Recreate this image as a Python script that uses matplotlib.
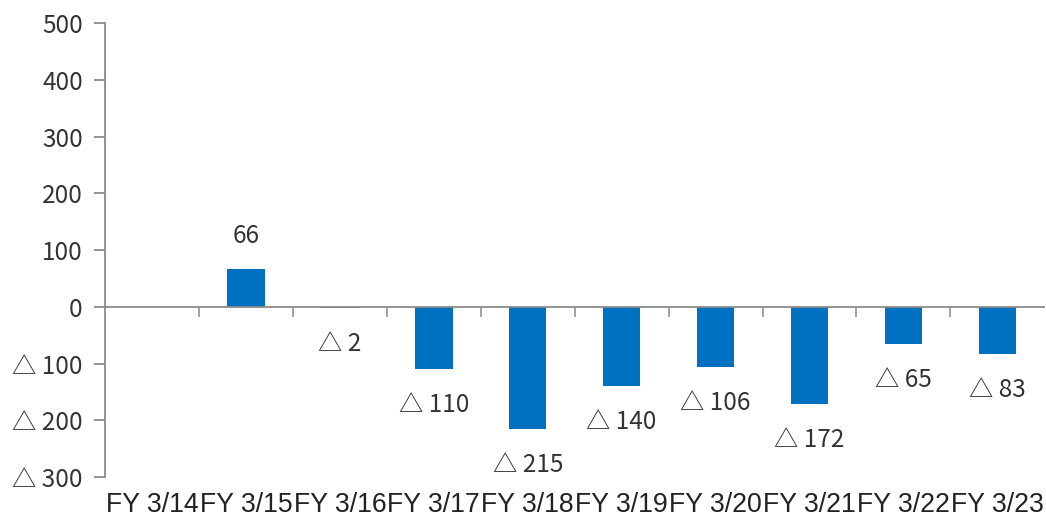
import matplotlib
matplotlib.use("Agg")
import matplotlib.pyplot as plt
import numpy as np

# dados do gráfico
categories = ["FY 3/14", "FY 3/15", "FY 3/16", "FY 3/17", "FY 3/18",
              "FY 3/19", "FY 3/20", "FY 3/21", "FY 3/22", "FY 3/23"]
values = [np.nan, 66, -2, -110, -215, -140, -106, -172, -65, -83]
yticks = [-300, -200, -100, 0, 100, 200, 300, 400, 500]

jp_font = ["Noto Sans CJK JP", "DejaVu Sans"]
gray = "#8a8a8a"
blue = "#0070C0"


def fmt(v):
    # valores negativos com triângulo, estilo japonês
    return f"△ {abs(int(v))}" if v < 0 else f"{int(v)}"


fig = plt.figure(figsize=(10.46, 5.2), dpi=100)
ax = fig.add_axes([0.1004, 0.0827, 0.898, 0.873])

x = np.arange(len(categories))
ax.bar(x, values, width=0.4, color=blue, zorder=2)

ax.set_xlim(-0.5, len(categories) - 0.5)
ax.set_ylim(-300, 500)
ax.set_yticks(yticks)
ax.set_yticklabels([fmt(v) if v != 0 else "0" for v in yticks],
                   family=jp_font, fontsize=17.5, color="#333333")

# eixo x na linha do zero
ax.spines["bottom"].set_position(("data", 0))
ax.spines["top"].set_visible(False)
ax.spines["right"].set_visible(False)
for s in ["bottom", "left"]:
    ax.spines[s].set_color(gray)
    ax.spines[s].set_linewidth(1.3)
    ax.spines[s].set_zorder(3)

ax.tick_params(axis="y", length=8, width=1.3, color=gray, pad=8)
ax.set_xticks(x)
ax.set_xticklabels([])
ax.tick_params(axis="x", which="major", length=0)
ax.set_xticks(np.arange(len(categories) - 1) + 0.5, minor=True)
ax.tick_params(axis="x", which="minor", length=7, width=1.1, color=gray,
               direction="out")

# rótulos das categorias embaixo
for i, c in enumerate(categories):
    ax.text(i, -0.062, c, transform=ax.get_xaxis_transform(),
            ha="center", va="center", fontsize=19.2,
            family="Liberation Sans", color="#222222")

# rótulos dos valores
for i, v in enumerate(values):
    if np.isnan(v):
        continue
    off = 33 if v > 0 else -36
    ax.annotate(fmt(v), (i, v), xytext=(0, off), textcoords="offset pixels",
                ha="center", va="center", fontsize=17.5, family=jp_font,
                color="#333333")

fig.savefig("out.png", dpi=100)
